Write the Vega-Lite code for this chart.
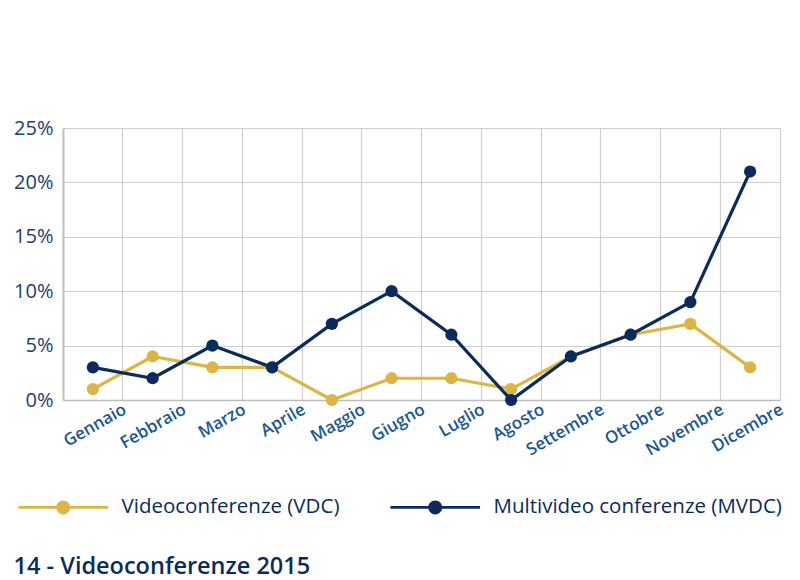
{
  "$schema": "https://vega.github.io/schema/vega-lite/v6.json",
  "width": 717,
  "height": 272,
  "autosize": {"type": "none"},
  "padding": {"left": 63, "top": 128, "right": 20, "bottom": 180},
  "background": "white",
  "config": {"view": {"stroke": null}, "font": "Open Sans"},
  "title": {
    "text": "14 - Videoconferenze 2015",
    "orient": "bottom",
    "anchor": "start",
    "frame": "bounds",
    "font": "Open Sans",
    "fontSize": 23.5,
    "fontWeight": 600,
    "color": "#0A2B5C",
    "offset": 37,
    "dx": 0
  },
  "data": {
    "values": [
      {"mese": "Gennaio", "serie": "Videoconferenze (VDC)", "valore": 1},
      {"mese": "Febbraio", "serie": "Videoconferenze (VDC)", "valore": 4},
      {"mese": "Marzo", "serie": "Videoconferenze (VDC)", "valore": 3},
      {"mese": "Aprile", "serie": "Videoconferenze (VDC)", "valore": 3},
      {"mese": "Maggio", "serie": "Videoconferenze (VDC)", "valore": 0},
      {"mese": "Giugno", "serie": "Videoconferenze (VDC)", "valore": 2},
      {"mese": "Luglio", "serie": "Videoconferenze (VDC)", "valore": 2},
      {"mese": "Agosto", "serie": "Videoconferenze (VDC)", "valore": 1},
      {"mese": "Settembre", "serie": "Videoconferenze (VDC)", "valore": 4},
      {"mese": "Ottobre", "serie": "Videoconferenze (VDC)", "valore": 6},
      {"mese": "Novembre", "serie": "Videoconferenze (VDC)", "valore": 7},
      {"mese": "Dicembre", "serie": "Videoconferenze (VDC)", "valore": 3},
      {"mese": "Gennaio", "serie": "Multivideo conferenze (MVDC)", "valore": 3},
      {"mese": "Febbraio", "serie": "Multivideo conferenze (MVDC)", "valore": 2},
      {"mese": "Marzo", "serie": "Multivideo conferenze (MVDC)", "valore": 5},
      {"mese": "Aprile", "serie": "Multivideo conferenze (MVDC)", "valore": 3},
      {"mese": "Maggio", "serie": "Multivideo conferenze (MVDC)", "valore": 7},
      {"mese": "Giugno", "serie": "Multivideo conferenze (MVDC)", "valore": 10},
      {"mese": "Luglio", "serie": "Multivideo conferenze (MVDC)", "valore": 6},
      {"mese": "Agosto", "serie": "Multivideo conferenze (MVDC)", "valore": 0},
      {"mese": "Settembre", "serie": "Multivideo conferenze (MVDC)", "valore": 4},
      {"mese": "Ottobre", "serie": "Multivideo conferenze (MVDC)", "valore": 6},
      {"mese": "Novembre", "serie": "Multivideo conferenze (MVDC)", "valore": 9},
      {"mese": "Dicembre", "serie": "Multivideo conferenze (MVDC)", "valore": 21}
    ]
  },
  "encoding": {
    "x": {
      "field": "mese",
      "type": "ordinal",
      "sort": null,
      "scale": {"type": "band", "paddingInner": 0, "paddingOuter": 0},
      "axis": {
        "title": null,
        "bandPosition": 1,
        "labelAngle": -30,
        "labelAlign": "right",
        "labelBaseline": "top",
        "labelPadding": 1,
        "labelOffset": 28,
        "labelFont": "Open Sans",
        "labelFontSize": 17,
        "labelFontWeight": 600,
        "labelColor": "#1A5796",
        "ticks": false,
        "domainColor": "#BDBDBD",
        "domainWidth": 1.5,
        "grid": true,
        "gridColor": "#CFCFCF",
        "gridWidth": 1.2
      }
    },
    "y": {
      "field": "valore",
      "type": "quantitative",
      "scale": {"domain": [0, 25], "nice": false},
      "axis": {
        "title": null,
        "values": [0, 5, 10, 15, 20, 25],
        "labelExpr": "datum.value + '%'",
        "labelFont": "Open Sans",
        "labelFontSize": 20,
        "labelColor": "#1C3E6E",
        "labelPadding": 10,
        "ticks": false,
        "domainColor": "#BDBDBD",
        "domainWidth": 2,
        "gridColor": "#CFCFCF",
        "gridWidth": 1.2
      }
    },
    "color": {
      "field": "serie",
      "type": "nominal",
      "scale": {
        "domain": ["Videoconferenze (VDC)", "Multivideo conferenze (MVDC)"],
        "range": ["#DBB646", "#0A2B5C"]
      },
      "legend": {
        "title": null,
        "orient": "none",
        "direction": "horizontal",
        "legendX": -10,
        "legendY": 369,
        "padding": 0,
        "symbolType": "M-6.4,-0.21H-0.9V0.21H-6.4Z M0.9,-0.21H6.4V0.21H0.9Z M1,0A1,1 0 1,1 -1,0A1,1 0 1,1 1,0Z",
        "symbolSize": 196,
        "symbolStrokeWidth": 0,
        "symbolOpacity": 1,
        "labelOffset": 48,
        "labelLimit": 500,
        "labelFont": "Open Sans",
        "labelFontSize": 20.5,
        "labelColor": "#0A2B5C",
        "columnPadding": 50
      }
    }
  },
  "layer": [
    {
      "transform": [{"filter": "datum.serie === 'Videoconferenze (VDC)'"}],
      "mark": {"type": "line", "strokeWidth": 3.2}
    },
    {
      "transform": [{"filter": "datum.serie === 'Videoconferenze (VDC)'"}],
      "mark": {"type": "point", "filled": true, "size": 150, "opacity": 1}
    },
    {
      "transform": [{"filter": "datum.serie === 'Multivideo conferenze (MVDC)'"}],
      "mark": {"type": "line", "strokeWidth": 3.2}
    },
    {
      "transform": [{"filter": "datum.serie === 'Multivideo conferenze (MVDC)'"}],
      "mark": {"type": "point", "filled": true, "size": 150, "opacity": 1}
    }
  ]
}
